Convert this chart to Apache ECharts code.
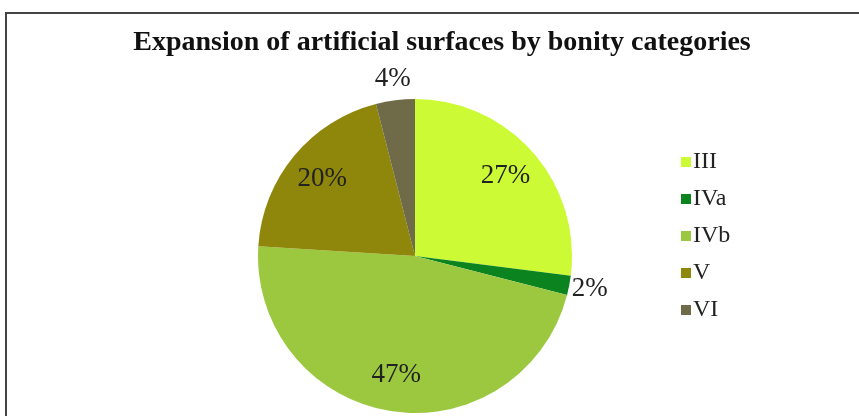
<!DOCTYPE html>
<html>
<head>
<meta charset="utf-8">
<script src="https://cdn.jsdelivr.net/npm/echarts@6/dist/echarts.min.js"></script>
<style>
html,body{margin:0;padding:0;background:#fff;}
#chart{width:859px;height:416px;}
</style>
</head>
<body>
<div id="chart"></div>
<script>
const titleText = 'Expansion of artificial surfaces by bonity categories';
const categories = ['III', 'IVa', 'IVb', 'V', 'VI'];
const values = [27, 2, 47, 20, 4];
const colors = ['#ccfa34', '#0b8420', '#9cc840', '#8f870c', '#6f6a48'];
const outsideLabel = [false, true, false, false, true];

const chart = echarts.init(document.getElementById('chart'));
const font = '"Liberation Serif", "Times New Roman", serif';
const center = [415, 256];
const R = 157;

const pieData = categories.map((c, i) => ({
  name: c, value: values[i], itemStyle: { color: colors[i] }
}));
const innerLabelData = categories.map((c, i) => ({
  name: c, value: values[i], label: { show: !outsideLabel[i] }
}));
const outerLabelData = categories.map((c, i) => ({
  name: c, value: values[i], label: { show: outsideLabel[i] }
}));
const labelStyle = { position: 'inside', formatter: p => p.value + '%', fontFamily: font, fontSize: 27, color: '#222' };

chart.setOption({
  backgroundColor: '#fff',
  animation: false,
  graphic: [{
    type: 'polyline',
    shape: { points: [[6, 430], [6, 13], [870, 13]] },
    style: { stroke: '#444', lineWidth: 2, fill: null }
  }],
  title: {
    text: titleText, left: 437, top: 24, textAlign: 'center',
    textStyle: { fontFamily: font, fontWeight: 'bold', fontSize: 28, color: '#111' }
  },
  legend: {
    orient: 'vertical', left: 676, top: 145,
    itemWidth: 10, itemHeight: 10, itemGap: 13, icon: 'rect',
    data: categories,
    textStyle: { fontFamily: font, fontSize: 24, color: '#222', lineHeight: 24, padding: [0, 0, 0, -3] }
  },
  series: [{
    type: 'pie', center: center, radius: R, startAngle: 90, clockwise: true,
    data: pieData, label: { show: false }, labelLine: { show: false },
    emphasis: { disabled: true }
  }, {
    type: 'pie', center: center, radius: [78, R], startAngle: 90, clockwise: true,
    silent: true, legendHoverLink: false,
    itemStyle: { color: 'rgba(0,0,0,0)' },
    data: innerLabelData, label: labelStyle, labelLine: { show: false },
    emphasis: { disabled: true }
  }, {
    type: 'pie', center: center, radius: [R, 193], startAngle: 90, clockwise: true,
    silent: true, legendHoverLink: false,
    itemStyle: { color: 'rgba(0,0,0,0)' },
    data: outerLabelData, label: labelStyle, labelLine: { show: false },
    emphasis: { disabled: true }
  }]
});
</script>
</body>
</html>
